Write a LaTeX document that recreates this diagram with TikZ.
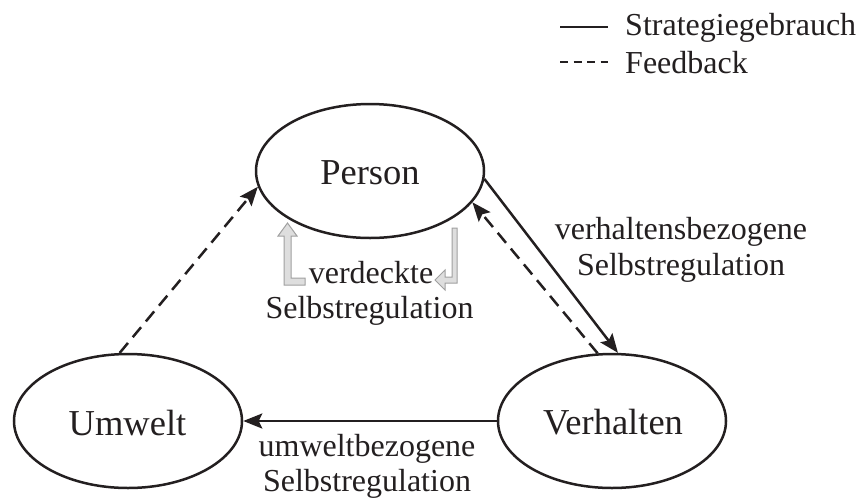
\documentclass[tikz,border=0pt]{standalone}
\usepackage{fontspec}
\setmainfont{Liberation Serif}
\usetikzlibrary{arrows.meta,shapes.geometric}
\definecolor{ink}{RGB}{35,31,32}
\definecolor{grayfill}{RGB}{222,222,222}
\definecolor{grayline}{RGB}{160,160,160}
\begin{document}
\begin{tikzpicture}[x=1pt,y=-1pt,
  ell/.style={ellipse,draw=ink,line width=2.5pt,minimum width=228pt,minimum height=134pt,inner sep=0pt},
  big/.style={font=\fontsize{36.5}{40}\selectfont,text=ink,inner sep=0pt,anchor=base},
  lbl/.style={font=\fontsize{32}{36}\selectfont,text=ink,inner sep=0pt,anchor=base},
  conn/.style={draw=ink,line width=2.5pt,-{Stealth[length=19pt,width=15pt,inset=3.5pt]}},
  fb/.style={conn,dash pattern=on 13pt off 7.5pt},
  covert/.style={fill=grayfill,draw=grayline,line width=1pt}]
\useasboundingbox (0,0) rectangle (859,499);
% ellipses
\node[ell] (P) at (370,171) {};
\node[ell] (U) at (128,421) {};
\node[ell] (V) at (612,421) {};
% ellipse labels
\node[big] (Pt) at (370,184) {Person};
\node[big] (Ut) at (127.5,435) {Umwelt};
\node[big] (Vt) at (613,434) {Verhalten};
% connectors
\draw[conn] (P.-4.5) -- (V.85);
\draw[fb] (V.102) -- (P.-17);
\draw[fb] (U.97) -- (P.188.6);
\draw[conn] (V.west) -- (U.east);
% covert self-regulation arrows
\path[covert] (287.5,223) -- (297,236) -- (291,236) -- (291,278) -- (305,278) -- (305,285) -- (284,285) -- (284,236) -- (278,236) -- cycle;
\path[covert] (452,228) -- (457,228) -- (457,283) -- (445,283) -- (445,290) -- (435,280) -- (445,270) -- (445,277) -- (452,277) -- cycle;
% labels
\node[lbl] (c1) at (371,283) {verdeckte};
\node[lbl] (c2) at (369.5,318) {Selbstregulation};
\node[lbl] (b1) at (681,239) {verhaltensbezogene};
\node[lbl] (b2) at (681,275) {Selbstregulation};
\node[lbl] (e1) at (367,456) {umweltbezogene};
\node[lbl] (e2) at (367,491) {Selbstregulation};
% legend
\coordinate (l1a) at (560,27);
\coordinate (l1b) at (608,27);
\coordinate (l2a) at (560,62);
\coordinate (l2b) at (608,62);
\draw[ink,line width=2.5pt] (l1a) -- (l1b);
\draw[ink,line width=2.5pt,dash pattern=on 8pt off 5.5pt] (l2a) -- (l2b);
\node[lbl,anchor=base west] (s1) at (625,35) {Strategiegebrauch};
\node[lbl,anchor=base west] (s2) at (625,73) {Feedback};
\end{tikzpicture}
\end{document}
